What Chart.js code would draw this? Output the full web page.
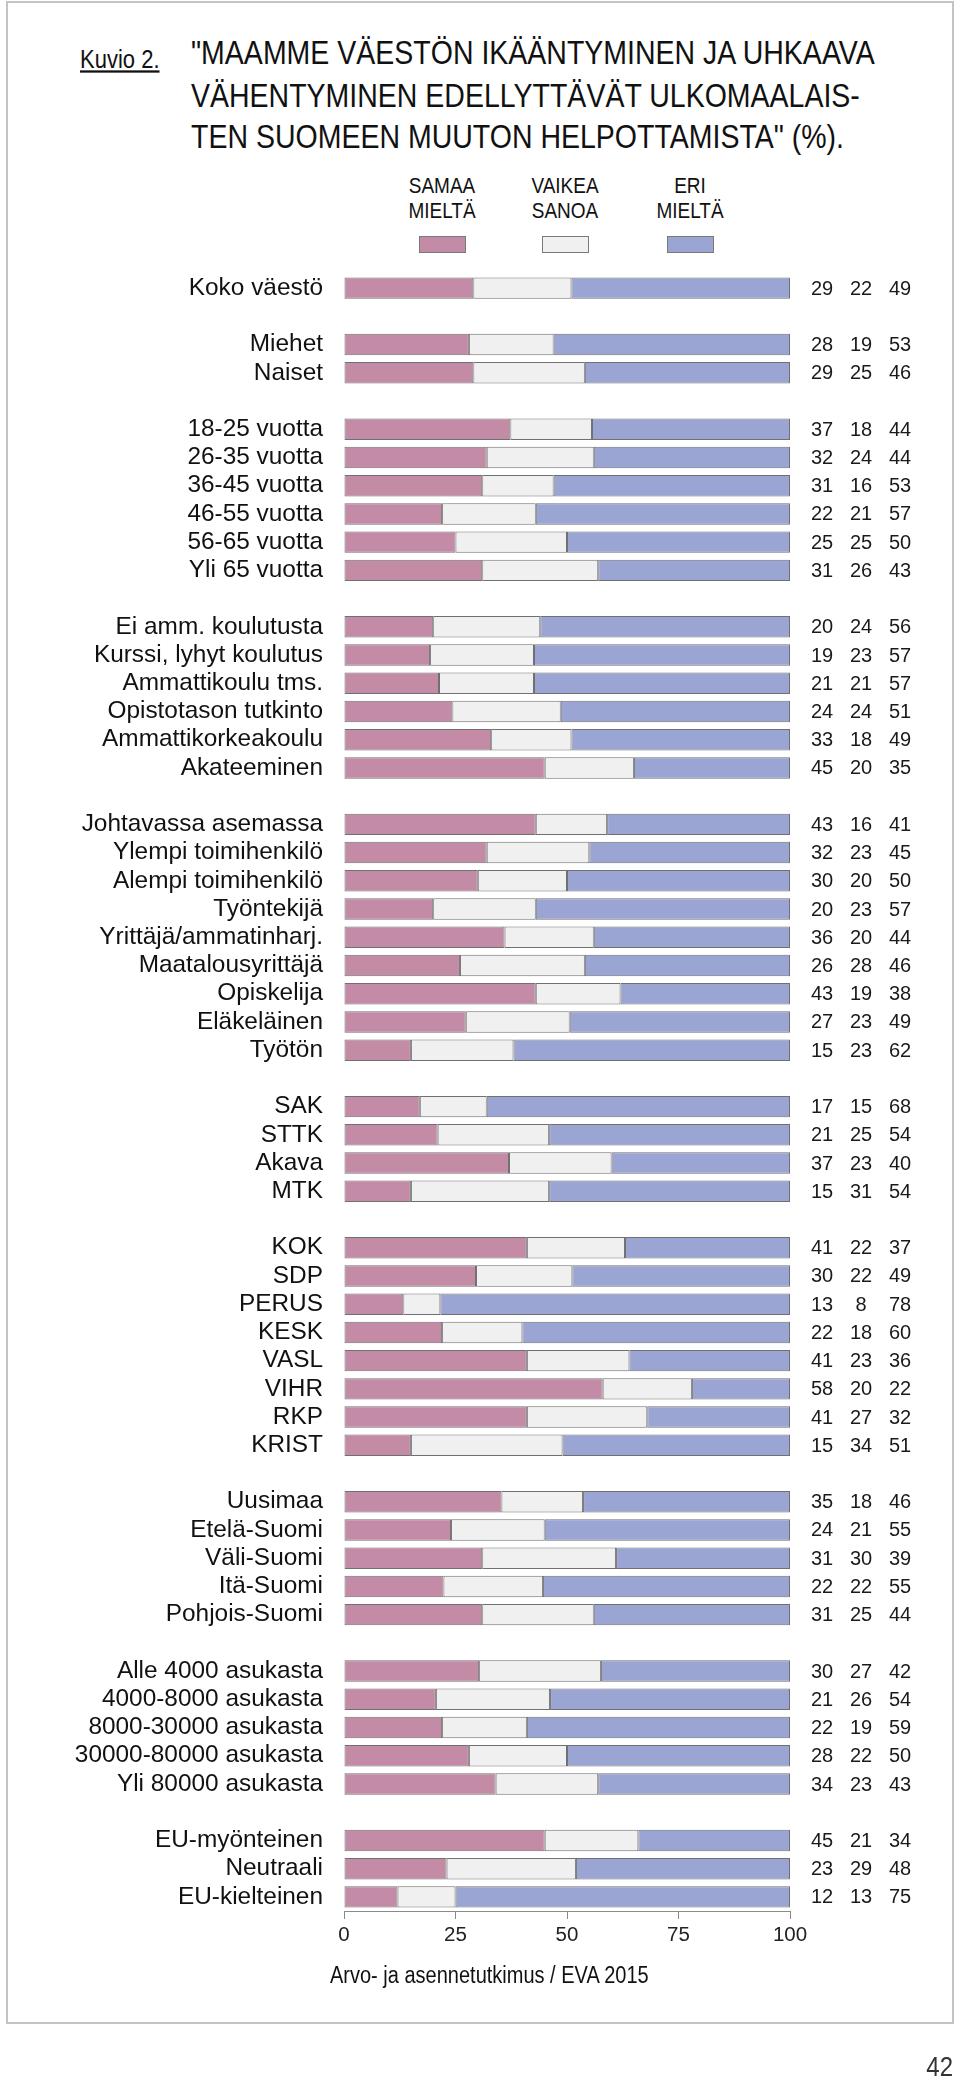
<!DOCTYPE html>
<html>
<head>
<meta charset="utf-8">
<script src="https://cdn.jsdelivr.net/npm/chart.js@4.4.1/dist/chart.umd.min.js"></script>
<style>
  html, body { margin: 0; padding: 0; background: #fff; }
  body { width: 960px; height: 2082px; position: relative; overflow: hidden;
         font-family: "Liberation Sans", Arial, sans-serif; color: #111; }
  #frame { position: absolute; left: 6px; top: 1px; width: 944px; height: 2019px;
           border: 2px solid #c4c4c4; }
  #kuvio { position: absolute; left: 80px; top: 47px; font-size: 22px; text-decoration: underline; line-height: 26px;
           transform: scaleY(1.15); transform-origin: 50% 50%; }
  #title { position: absolute; left: 191px; top: 42px; font-size: 28.5px; line-height: 35.5px; white-space: nowrap;
           transform: scaleY(1.18); transform-origin: 50% 50%; }
  .leg { position: absolute; top: 177px; width: 120px; margin-left: -60px; text-align: center;
         font-size: 19px; line-height: 21px; transform: scaleY(1.15); transform-origin: 50% 50%; }
  .sw { position: absolute; top: 236px; width: 45px; height: 15px; border: 1px solid #7a7a7a; }
  #src { position: absolute; left: 330px; top: 1963px; font-size: 20px; line-height: 24px;
         transform: scaleY(1.15); transform-origin: 50% 50%; }
  #page { position: absolute; right: 7px; top: 2053px; font-size: 24px; line-height: 28px; color: #333;
          transform: scaleY(1.15); transform-origin: 50% 50%; }
  #wrap { position: absolute; left: 0; top: 0; width: 960px; height: 2082px; }
</style>
</head>
<body>
<div id="frame"></div>
<div id="kuvio">Kuvio 2.</div>
<div id="title">"MAAMME VÄESTÖN IKÄÄNTYMINEN JA UHKAAVA<br>VÄHENTYMINEN EDELLYTTÄVÄT ULKOMAALAIS-<br>TEN SUOMEEN MUUTON HELPOTTAMISTA" (%).</div>
<div id="legend"></div>
<div id="wrap"><canvas id="c" width="960" height="2082"></canvas></div>
<div id="src">Arvo- ja asennetutkimus / EVA 2015</div>
<div id="page">42</div>
<script>
// ---- data (empty label + null = gap row between groups) ----
// Values are the bar shares; the printed numbers are these rounded.
const categories = [
  "Koko väestö", "",
  "Miehet", "Naiset", "",
  "18-25 vuotta", "26-35 vuotta", "36-45 vuotta", "46-55 vuotta", "56-65 vuotta", "Yli 65 vuotta", "",
  "Ei amm. koulutusta", "Kurssi, lyhyt koulutus", "Ammattikoulu tms.", "Opistotason tutkinto", "Ammattikorkeakoulu", "Akateeminen", "",
  "Johtavassa asemassa", "Ylempi toimihenkilö", "Alempi toimihenkilö", "Työntekijä", "Yrittäjä/ammatinharj.", "Maatalousyrittäjä", "Opiskelija", "Eläkeläinen", "Työtön", "",
  "SAK", "STTK", "Akava", "MTK", "",
  "KOK", "SDP", "PERUS", "KESK", "VASL", "VIHR", "RKP", "KRIST", "",
  "Uusimaa", "Etelä-Suomi", "Väli-Suomi", "Itä-Suomi", "Pohjois-Suomi", "",
  "Alle 4000 asukasta", "4000-8000 asukasta", "8000-30000 asukasta", "30000-80000 asukasta", "Yli 80000 asukasta", "",
  "EU-myönteinen", "Neutraali", "EU-kielteinen"
];
const samaaMielta = [
  29, null,
  28, 29, null,
  37.3, 32, 31, 22, 25, 31, null,
  20, 19.3, 21.3, 24.3, 33, 45, null,
  43, 32, 30, 20, 36, 26, 43, 27.3, 15, null,
  17, 21, 37, 15, null,
  41, 29.6, 13.3, 22, 41, 58, 41, 15, null,
  35.3, 24, 31, 22.3, 31, null,
  30.3, 20.6, 22, 28, 34, null,
  45, 23, 12
];
const vaikeaSanoa = [
  22, null,
  19, 25, null,
  18.3, 24, 16, 21, 25, 26, null,
  24, 23.3, 21.3, 24.3, 18, 20, null,
  16, 23, 20, 23, 20, 28, 19, 23.3, 23, null,
  15, 25, 23, 31, null,
  22, 21.6, 8.3, 18, 23, 20, 27, 34, null,
  18.3, 21, 30, 22.3, 25, null,
  27.3, 25.6, 19, 22, 23, null,
  21, 29, 13
];
const eriMielta = [
  49, null,
  53, 46, null,
  44.4, 44, 53, 57, 50, 43, null,
  56, 57.4, 57.4, 51.4, 49, 35, null,
  41, 45, 50, 57, 44, 46, 38, 49.4, 62, null,
  68, 54, 40, 54, null,
  37, 48.8, 78.4, 60, 36, 22, 32, 51, null,
  46.4, 55, 39, 55.4, 44, null,
  42.4, 53.8, 59, 50, 43, null,
  34, 48, 75
];
const seriesNames = ["SAMAA\nMIELTÄ", "VAIKEA\nSANOA", "ERI\nMIELTÄ"];
const xTicks = [0, 25, 50, 75, 100];

const colors = ["#c48ba6", "#f0f0f0", "#9ba5d3"];
const FONT = '"Liberation Sans", Arial, sans-serif';

// legend (HTML)
const legendX = [442, 565, 690];
const legendEl = document.getElementById('legend');
seriesNames.forEach((n, i) => {
  const t = document.createElement('div');
  t.className = 'leg'; t.style.left = legendX[i] + 'px';
  t.innerHTML = n.replace('\n', '<br>');
  legendEl.appendChild(t);
  const s = document.createElement('div');
  s.className = 'sw'; s.style.left = (legendX[i] - 23) + 'px';
  s.style.background = colors[i];
  legendEl.appendChild(s);
});

const valuesPlugin = {
  id: 'values',
  afterDatasetsDraw(chart) {
    const ctx = chart.ctx;
    const y = chart.scales.y;
    const cols = [822, 861, 900];
    const arrs = [samaaMielta, vaikeaSanoa, eriMielta];
    ctx.save();
    ctx.font = '20px ' + FONT;
    ctx.fillStyle = '#1a1a1a';
    ctx.textAlign = 'center';
    ctx.textBaseline = 'middle';
    categories.forEach((c, i) => {
      if (samaaMielta[i] === null) return;
      const py = y.getPixelForValue(i);
      arrs.forEach((a, k) => ctx.fillText(String(Math.round(a[i])), cols[k], py + 1));
    });
    ctx.restore();
  }
};

const ds = (label, data, color) => ({
  label, data, backgroundColor: color, borderColor: '#707070', borderWidth: 1,
  borderSkipped: false, barPercentage: 0.76, categoryPercentage: 1.0
});

new Chart(document.getElementById('c'), {
  type: 'bar',
  data: {
    labels: categories,
    datasets: [
      ds('SAMAA MIELTÄ', samaaMielta, colors[0]),
      ds('VAIKEA SANOA', vaikeaSanoa, colors[1]),
      ds('ERI MIELTÄ', eriMielta, colors[2])
    ]
  },
  options: {
    indexAxis: 'y',
    responsive: false,
    devicePixelRatio: 1,
    animation: false,
    layout: { padding: { top: 274, bottom: 111, left: 0, right: 170 } },
    plugins: { legend: { display: false }, tooltip: { enabled: false } },
    scales: {
      x: {
        stacked: true, min: 0, max: 100,
        afterBuildTicks(s) { s.ticks = xTicks.map(v => ({ value: v })); },
        afterFit(s) { s.height = 60; },
        ticks: { font: { family: FONT, size: 20.5 }, color: '#222', padding: 4 },
        grid: { drawOnChartArea: false, drawTicks: true, tickLength: 8, color: '#8a8a8a' },
        border: { display: true, color: '#8a8a8a' }
      },
      y: {
        stacked: true,
        afterFit(s) { s.width = 344; },
        ticks: { autoSkip: false, font: { family: FONT, size: 24.4 }, color: '#111', padding: 13 },
        grid: { display: false },
        border: { display: false }
      }
    }
  },
  plugins: [valuesPlugin]
});
</script>
</body>
</html>
